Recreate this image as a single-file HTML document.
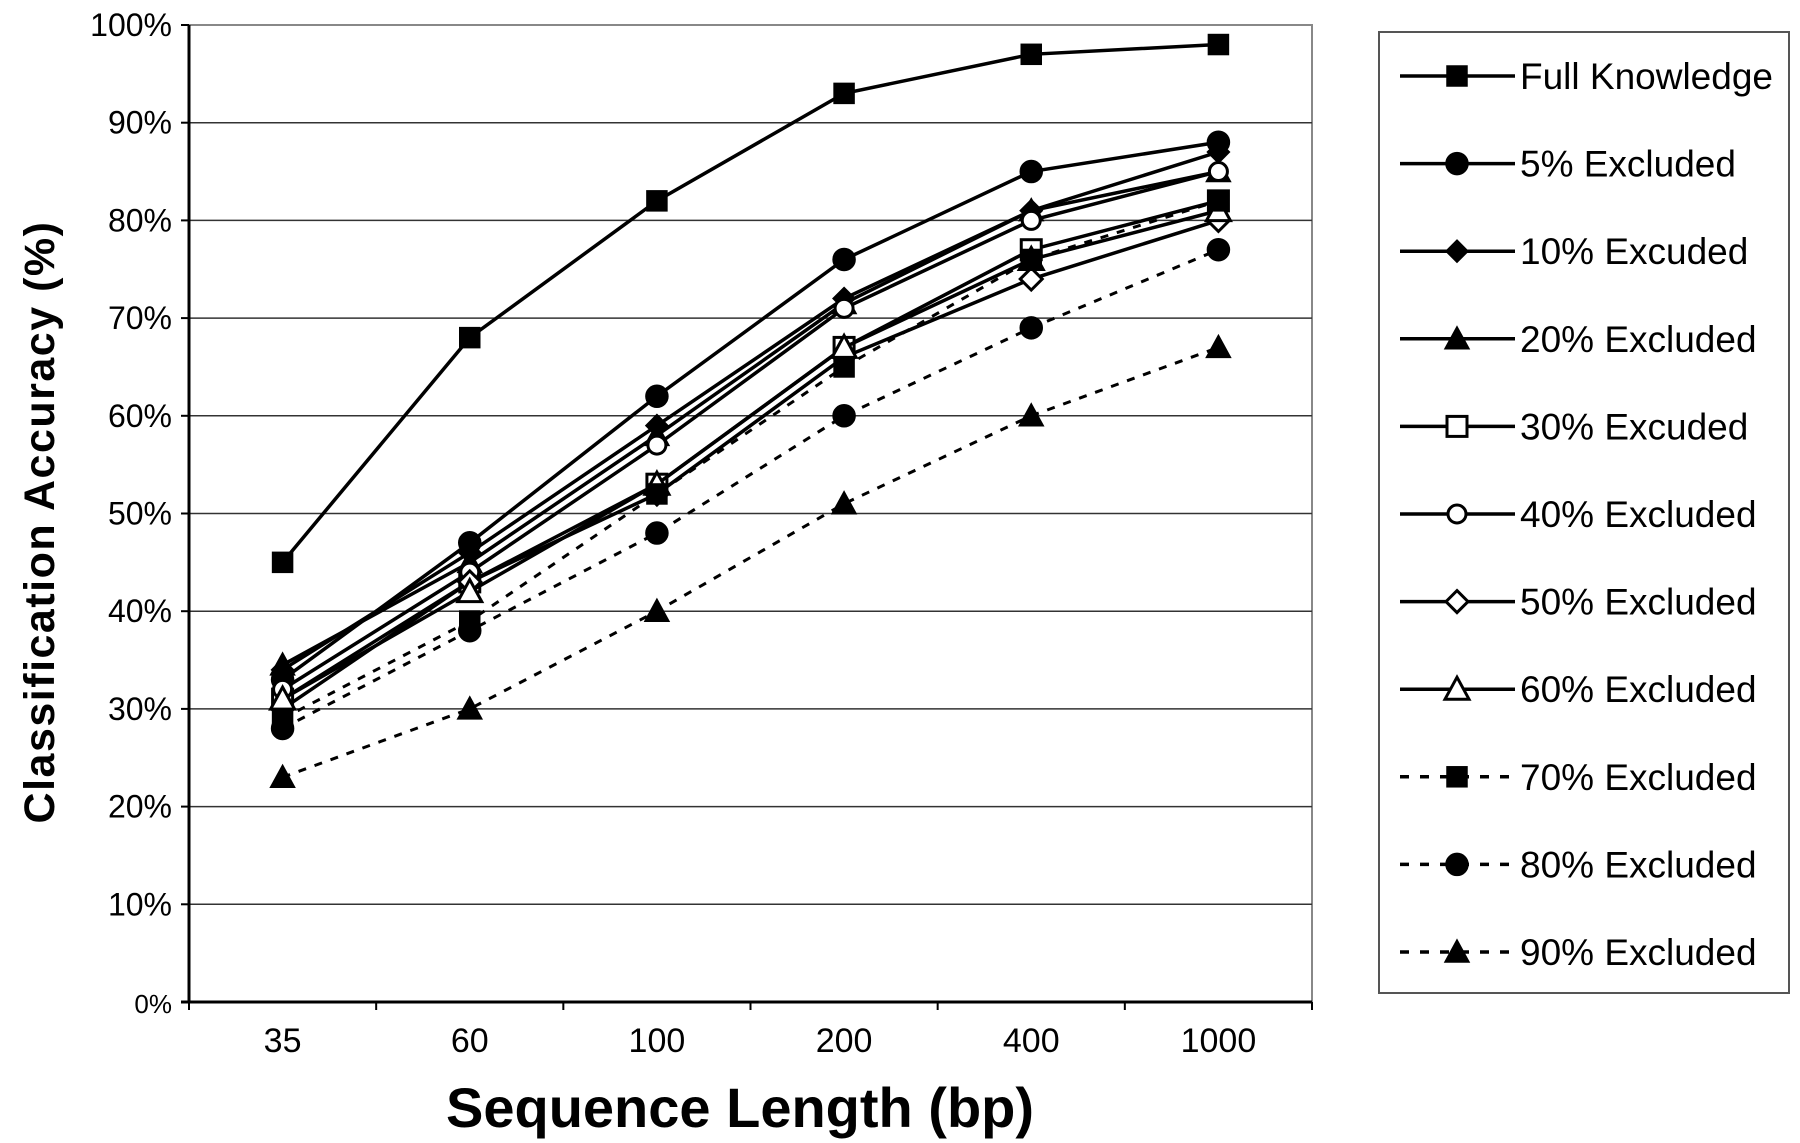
<!DOCTYPE html>
<html><head><meta charset="utf-8"><style>
html,body{margin:0;padding:0;background:#fff;}
svg{display:block;font-family:"Liberation Sans",Arial,sans-serif;}
</style></head><body>
<svg id="chart" width="1800" height="1143" viewBox="0 0 1800 1143" xmlns="http://www.w3.org/2000/svg">
<rect x="189" y="25" width="1123" height="977" fill="#fff" stroke="#888" stroke-width="2"/>
<g id="grid"></g><g id="axes"></g><g id="series"></g><g id="legend"></g>
<text x="740" y="1127" text-anchor="middle" font-size="56" font-weight="bold">Sequence Length (bp)</text>
<text transform="translate(54,522) rotate(-90)" text-anchor="middle" font-size="43" font-weight="bold" letter-spacing="1.5">Classification Accuracy (%)</text>
</svg>
<script>
const categories=["35","60","100","200","400","1000"];
const yTicks=[0,10,20,30,40,50,60,70,80,90,100];
const seriesNames=["Full Knowledge","5%  Excluded","10% Excuded","20% Excluded","30% Excuded","40% Excluded","50% Excluded","60% Excluded","70% Excluded","80% Excluded","90% Excluded"];
const sFull=[45,68,82,93,97,98];
const s5=[33,47,62,76,85,88];
const s10=[34,46,59,72,81,87];
const s20=[34.5,45,58,71.5,81,85];
const s30=[31,43,53,67,77,82];
const s40=[32,44,57,71,80,85];
const s50=[30,43,52,66,74,80];
const s60=[31,42,53,67,76,81];
const s70=[29,39,52,65,76,82];
const s80=[28,38,48,60,69,77];
const s90=[23,30,40,51,60,67];
const allSeries=[sFull,s5,s10,s20,s30,s40,s50,s60,s70,s80,s90];
const markers=["square","circle","diamond","triangle","osquare","ocircle","odiamond","otriangle","square","circle","triangle"];
const dashed=[0,0,0,0,0,0,0,0,1,1,1];

const NS="http://www.w3.org/2000/svg";
const L=189,R=1312,T=25,B=1002;
const xs=i=>L+(R-L)/categories.length*(i+0.5);
const ys=v=>B-(B-T)*v/100;
function mk(tag,attrs,parent){const e=document.createElementNS(NS,tag);for(const k in attrs)e.setAttribute(k,attrs[k]);parent.appendChild(e);return e;}
const grid=document.getElementById('grid'),axes=document.getElementById('axes'),ser=document.getElementById('series'),leg=document.getElementById('legend');
yTicks.forEach(t=>{
  if(t>0&&t<100){const g=mk('line',{x1:L,x2:R,y1:ys(t),y2:ys(t),stroke:'#333','stroke-width':1.5},grid);
  
  }
  const tk=mk('line',{x1:L-8,x2:L,y1:ys(t),y2:ys(t),stroke:'#000','stroke-width':2},axes);
  
  
  const tx=mk('text',{x:172,y:ys(t)+11,'text-anchor':'end','font-size':t===0?26:32},axes);
  tx.textContent=t+'%';
  
  
});
mk('line',{x1:L,x2:L,y1:T,y2:B,stroke:'#000','stroke-width':3},axes);
mk('line',{x1:L-8,x2:R,y1:B,y2:B,stroke:'#000','stroke-width':3},axes);
for(let i=0;i<=categories.length;i++){const x=L+(R-L)/categories.length*i;mk('line',{x1:x,x2:x,y1:B,y2:B+8,stroke:'#000','stroke-width':2},axes);}
categories.forEach((c,i)=>{const t=mk('text',{x:xs(i),y:1052,'text-anchor':'middle','font-size':34},axes);t.textContent=c;

});
function marker(type,x,y,parent){
  const open=type[0]==='o';const base=open?type.slice(1):type;
  const st={fill:open?'#fff':'#000',stroke:'#000','stroke-width':open?3:1.5};
  let e;
  if(base==='square')e=mk('rect',Object.assign({x:x-10,y:y-10,width:20,height:20},st),parent);
  else if(base==='circle')e=mk('circle',Object.assign({cx:x,cy:y,r:open?9:11},st),parent);
  else if(base==='diamond')e=mk('polygon',Object.assign({points:`${x},${y-11} ${x+11},${y} ${x},${y+11} ${x-11},${y}`},st),parent);
  else e=mk('polygon',Object.assign({points:`${x},${y-12} ${x+12},${y+10} ${x-12},${y+10}`},st),parent);
  return e;
}
allSeries.forEach((s,k)=>{
  const g=mk('g',{},ser);
  
  
  const pl=mk('polyline',{points:s.map((v,i)=>xs(i)+','+ys(v)).join(' '),fill:'none',stroke:'#000','stroke-width':dashed[k]?3:3.5,'stroke-dasharray':dashed[k]?'8,9':'none'},g);
  
  
  s.forEach((v,i)=>{const m=marker(markers[k],xs(i),ys(v),g);
  
  });
});
const box=mk('rect',{x:1379,y:32,width:410,height:961,fill:'#fff',stroke:'#555','stroke-width':2},leg);


seriesNames.forEach((n,k)=>{
  const y=76+k*87.6;
  const g=mk('g',{},leg);
  
  
  mk('line',{x1:1400,x2:1515,y1:y,y2:y,stroke:'#000','stroke-width':3.5,'stroke-dasharray':dashed[k]?'9,11':'none'},g);
  marker(markers[k],1457,y,g);
  const t=mk('text',{x:1520,y:y+13,'font-size':37},g);t.textContent=n;
  
  
});
</script>
</body></html>
